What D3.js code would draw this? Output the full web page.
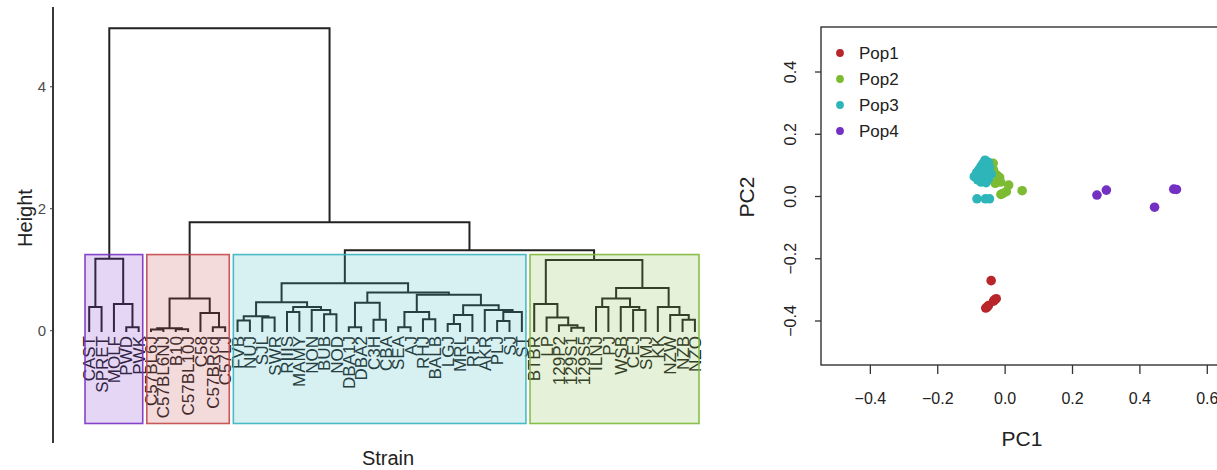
<!DOCTYPE html>
<html><head><meta charset="utf-8">
<script src="https://cdn.jsdelivr.net/npm/d3@7"></script>
<style>
body{margin:0;background:#fff;font-family:"Liberation Sans",Arial,sans-serif}
</style></head>
<body><svg id="chart" width="1217" height="470"></svg>
<script>
// leaf order as drawn in the dendrogram
const strains = ["CAST","SPRET","MOLF","PWD","PWK",
  "C57BL6J","C57BL6NJ","B10","C57BL10J","C58","C57BRcd","C57LJ",
  "FVB","NUJ","SJL","SWR","RIIIS","MAMY","NON","BUB","NOD","DBA1J","DBA2","C3H","CBA","SEA","AJ","RHJ","BALB","LGJ","MRL","RFJ","AKR","PLJ","SJ","ST",
  "BTBR","LP","129P2","129S1","129S5","ILNJ","PJ","WSB","CEJ","SMJ","KK","NZW","NZB","NZO"];
// hclust-like merges: [left, right, height]; numbers refer to earlier merges
const merges = [
  ["CAST","SPRET",0.38],["PWD","PWK",0.05],["MOLF",1,0.43],[0,2,1.17],
  ["C57BL6J","C57BL6NJ",0.01],["B10","C57BL10J",0.015],[4,5,0.03],["C57BRcd","C57LJ",0.05],["C58",7,0.28],[6,8,0.52],
  ["FVB","NUJ",0.16],["SJL","SWR",0.21],[10,11,0.23],["RIIIS","MAMY",0.30],["BUB","NOD",0.26],["NON",14,0.33],[13,15,0.38],[12,16,0.46],
  ["DBA1J","DBA2",0.05],["C3H","CBA",0.17],[18,19,0.45],["SEA","AJ",0.05],["RHJ","BALB",0.18],[21,22,0.30],
  ["LGJ","MRL",0.10],[24,"RFJ",0.25],["PLJ","SJ",0.15],[26,"ST",0.30],["AKR",27,0.33],[25,28,0.41],[23,29,0.58],[20,30,0.62],[17,31,0.77],
  ["129S1","129S5",0.04],["129P2",33,0.08],["LP",34,0.21],["BTBR",35,0.43],["ILNJ","PJ",0.38],["CEJ","SMJ",0.33],["WSB",38,0.38],[37,39,0.52],
  ["NZB","NZO",0.17],["NZW",41,0.25],["KK",42,0.38],[40,43,0.69],[36,44,1.15],
  [32,45,1.31],[9,46,1.77],[3,47,4.95]
];
const clusterSizes = [5, 7, 24, 14];
const clusterColors = ["#7a30c6", "#c2474b", "#36b5bf", "#7db93a"];
const heightTicks = [0, 2, 4];

// PCA scores per population [PC1, PC2]
const popNames = ["Pop1", "Pop2", "Pop3", "Pop4"];
const popColors = ["#b8262b", "#7cbb33", "#2db5b9", "#7330c2"];
const pop1 = [[-0.040,-0.272],[-0.030,-0.334],[-0.025,-0.330],[-0.056,-0.360],[-0.052,-0.357],[-0.048,-0.352],[-0.033,-0.338]];
const pop2 = [[-0.034,0.105],[-0.018,0.051],[0.012,0.035],[0.052,0.017],[-0.011,0.005],[0.005,0.014],[-0.023,0.067],
  [-0.042,0.073],[-0.015,0.060],[-0.028,0.041],[-0.052,0.057],[-0.033,0.084],[-0.012,0.045],[-0.006,0.008]];
const pop3 = [[-0.082,-0.009],[-0.057,-0.009],[-0.045,-0.009],[-0.058,0.115],[-0.064,0.105],[-0.048,0.108],[-0.070,0.095],
  [-0.055,0.098],[-0.076,0.085],[-0.062,0.088],[-0.045,0.092],[-0.083,0.075],[-0.068,0.075],[-0.052,0.078],[-0.090,0.062],
  [-0.074,0.065],[-0.058,0.066],[-0.040,0.070],[-0.080,0.052],[-0.064,0.055],[-0.048,0.056],[-0.070,0.045],[-0.055,0.043],[-0.085,0.068]];
const pop4 = [[0.274,0.003],[0.302,0.019],[0.445,-0.036],[0.502,0.022],[0.510,0.021]];
const pcTicks = [-0.4, -0.2, 0, 0.2, 0.4, 0.6];

const svg = d3.select("#chart");
const ink = "#222";

// ---------- dendrogram ----------
const x = d3.scaleLinear().domain([-0.34, strains.length - 1 + 0.33]).range([85, 699]);
const y = d3.scaleLinear().domain([-1.85, 5.3]).range([443, 7]);
const leafEnd = -0.03;
const nodes = merges.map(() => null);
const pos = c => typeof c === "number" ? nodes[c] : {x: x(strains.indexOf(c)), h: leafEnd};
merges.forEach((m, i) => { const a = pos(m[0]), b = pos(m[1]); nodes[i] = {x: (a.x + b.x) / 2, h: m[2], a, b}; });

const dend = svg.append("g");
dend.selectAll("path.link").data(nodes).enter().append("path")
  .attr("class", "link").attr("fill", "none").attr("stroke", ink).attr("stroke-width", 2)
  .attr("d", d => `M${d.a.x},${y(d.a.h)}V${y(d.h)}H${d.b.x}V${y(d.b.h)}`);

dend.selectAll("text.leaf").data(strains).enter().append("text")
  .attr("class", "leaf")
  .attr("transform", (d, i) => `translate(${x(i)},${y(leafEnd) + 4}) rotate(-90)`)
  .attr("dy", "0.36em").attr("text-anchor", "end")
  .style("font-size", "17px").attr("fill", ink).text(d => d);

// cluster rectangles (cut at k = 4)
const sortedH = merges.map(m => m[2]).sort((a, b) => b - a);
const cutH = (sortedH[2] + sortedH[3]) / 2;
let start = 0;
const rects = clusterSizes.map((n, i) => { const r = {i0: start, i1: start + n - 1, c: clusterColors[i]}; start += n; return r; });
dend.selectAll("rect.clu").data(rects).enter().append("rect")
  .attr("class", "clu")
  .attr("x", d => x(d.i0 - 0.34)).attr("width", d => x(d.i1 + 0.33) - x(d.i0 - 0.34))
  .attr("y", y(cutH)).attr("height", y(-1.53) - y(cutH))
  .attr("fill", d => d.c).attr("fill-opacity", 0.2)
  .attr("stroke", d => d.c).attr("stroke-width", 1.6).attr("stroke-opacity", 0.9);

const hAxis = svg.append("g").attr("transform", "translate(53,0)")
  .call(d3.axisLeft(y).tickValues(heightTicks).tickSize(3).tickPadding(4).tickFormat(d3.format("d")));
hAxis.select(".domain").attr("d", `M0,${y.range()[0]}V${y.range()[1]}`).attr("stroke", ink).attr("stroke-width", 1.8);
hAxis.selectAll(".tick line").attr("stroke", "#444");
hAxis.selectAll(".tick text").attr("fill", "#4d4d4d").style("font-size", "15px").style("font-family", "inherit");

svg.append("text").attr("transform", "translate(32,218) rotate(-90)").attr("text-anchor", "middle")
  .style("font-size", "20px").attr("fill", ink).text("Height");
svg.append("text").attr("x", 388).attr("y", 465).attr("text-anchor", "middle")
  .style("font-size", "20px").attr("fill", ink).text("Strain");

// ---------- PCA scatter ----------
const px = d3.scaleLinear().domain([-0.545, 0.66]).range([821, 1227]);
const py = d3.scaleLinear().domain([-0.543, 0.543]).range([365, 27]);
const pca = svg.append("g");
pca.append("rect").attr("x", px.range()[0]).attr("y", py.range()[1])
  .attr("width", px.range()[1] - px.range()[0]).attr("height", py.range()[0] - py.range()[1])
  .attr("fill", "none").attr("stroke", "#333").attr("stroke-width", 1.4);

const xAx = pca.append("g").attr("transform", `translate(0,${py.range()[0]})`)
  .call(d3.axisBottom(px).tickValues(pcTicks).tickSize(9).tickPadding(19).tickFormat(d3.format(".1f")));
xAx.select(".domain").remove();
const yAx = pca.append("g").attr("transform", `translate(${px.range()[0]},0)`)
  .call(d3.axisLeft(py).tickValues(pcTicks.slice(0, 5)).tickSize(6).tickPadding(0).tickFormat(d3.format(".1f")));
yAx.select(".domain").remove();
yAx.selectAll(".tick text").attr("transform", "translate(-31,0) rotate(-90)").attr("text-anchor", "middle").attr("x", 0).attr("dy", "0.36em");
[xAx, yAx].forEach(a => {
  a.selectAll(".tick line").attr("stroke", "#333").attr("stroke-width", 1.3);
  a.selectAll(".tick text").attr("fill", ink).style("font-size", "16px").style("font-family", "inherit");
});

svg.append("text").attr("x", 1022).attr("y", 446).attr("text-anchor", "middle")
  .style("font-size", "21px").attr("fill", ink).text("PC1");
svg.append("text").attr("transform", "translate(754,197) rotate(-90)").attr("text-anchor", "middle")
  .style("font-size", "21px").attr("fill", ink).text("PC2");

const pops = [pop1, pop2, pop3, pop4];
pops.forEach((pts, k) => {
  pca.selectAll(null).data(pts).enter().append("circle")
    .attr("cx", d => px(d[0])).attr("cy", d => py(d[1])).attr("r", 4.8)
    .attr("fill", popColors[k]);
});

const leg = pca.selectAll("g.leg").data(popNames).enter().append("g")
  .attr("class", "leg").attr("transform", (d, i) => `translate(840,${53 + i * 26})`);
leg.append("circle").attr("r", 3.9).attr("fill", (d, i) => popColors[i]);
leg.append("text").attr("x", 19).attr("dy", "0.36em").style("font-size", "17px").attr("fill", ink).text(d => d);
</script>
</body></html>
